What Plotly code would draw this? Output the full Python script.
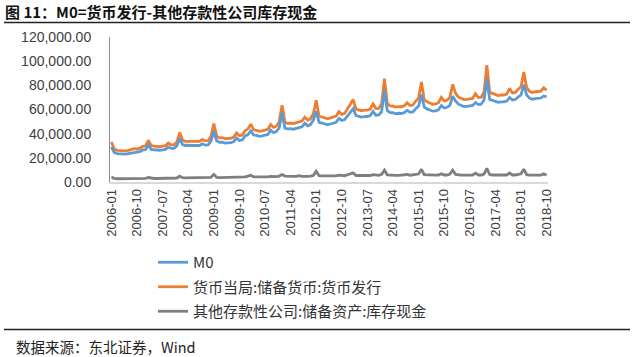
import plotly.graph_objects as go

# monthly categories 2006-01 .. 2018-10
months = [f"{y}-{m:02d}" for y in range(2006, 2019) for m in range(1, 13)][:154]

tick_labels = ["2006-01", "2006-10", "2007-07", "2008-04", "2009-01", "2009-10",
               "2010-07", "2011-04", "2012-01", "2012-10", "2013-07", "2014-04",
               "2015-01", "2015-10", "2016-07", "2017-04", "2018-01", "2018-10"]

# M0 (blue)
m0 = [
    29000, 24300, 23500, 23300, 23100, 23100, 23500, 23800, 24700, 24500, 25200, 26500,
    26800, 30800, 27000, 26700, 26300, 26300, 26600, 27000, 29100, 27800, 27900, 29900,
    36100, 31000, 30200, 30200, 29800, 29600, 30100, 30200, 31600, 30500, 30700, 33700,
    42000, 34100, 32800, 32900, 32200, 32100, 32500, 33400, 36400, 34400, 34800, 38200,
    39200, 42300, 38900, 38600, 37800, 38200, 38800, 39300, 42900, 40800, 41700, 44900,
    57300, 44600, 44000, 44200, 43700, 44300, 44600, 45700, 48600, 46500, 47500, 51100,
    58700, 49300, 48800, 48400, 47400, 48000, 48800, 49400, 52600, 50900, 51600, 54500,
    57200, 60700, 55000, 54300, 53700, 54100, 54200, 55000, 58400, 55300, 55500, 58100,
    75800, 59100, 57400, 57300, 56500, 56900, 56700, 57500, 59400, 57700, 58000, 60600,
    62900, 72300, 61900, 60500, 59400, 58600, 58900, 59800, 63300, 61200, 61800, 63500,
    71000, 67000, 64400, 63300, 62500, 62600, 62800, 63400, 65800, 64100, 64400, 67800,
    85500, 68300, 67500, 66700, 65900, 66300, 66300, 67000, 70000, 67900, 68300, 70300,
    72000, 80500, 72000, 69400, 68500, 69000, 69200, 69500, 71200, 70400,
]

# 货币当局:储备货币:货币发行 (orange)
issue = [
    33100, 27200, 26200, 26000, 25800, 25800, 26200, 26600, 27600, 27300, 28000, 29500,
    29800, 34500, 30000, 29600, 29200, 29200, 29600, 30000, 32300, 30800, 30900, 33200,
    40900, 34600, 33600, 33600, 33200, 33000, 33500, 33600, 35200, 34000, 34200, 37600,
    48300, 38000, 36500, 36600, 35900, 35800, 36200, 37200, 40600, 38300, 38800, 42500,
    44000, 47800, 43200, 42800, 42000, 42400, 43100, 43600, 47600, 45200, 46200, 49800,
    63500, 49500, 48600, 48800, 48300, 49000, 49800, 50400, 53600, 51200, 52300, 56500,
    67700, 54500, 53800, 53300, 52300, 53000, 53800, 54500, 58200, 56000, 56800, 60500,
    64000, 68200, 60400, 59600, 59000, 59400, 59500, 60400, 64500, 60800, 61000, 64500,
    85600, 65000, 63000, 62800, 62000, 62400, 62300, 63100, 65600, 63300, 63700, 67000,
    69500, 82800, 67900, 66300, 65100, 64300, 64600, 65600, 70100, 67000, 67600, 70100,
    80800, 73300, 70200, 69000, 68200, 68300, 68500, 69200, 73100, 69900, 70200, 74300,
    96700, 74500, 73300, 72400, 71500, 72000, 72000, 72800, 77400, 73700, 74100, 76700,
    78800, 91100, 78000, 75100, 74100, 74700, 74900, 75200, 78000, 75900,
]

# 其他存款性公司:储备资产:库存现金 (gray)
vault = [
    4100, 2900, 2700, 2700, 2700, 2700, 2700, 2800, 2900, 2800, 2800, 3000,
    3000, 3700, 3000, 2900, 2900, 2900, 3000, 3000, 3200, 3000, 3000, 3300,
    4800, 3600, 3400, 3400, 3400, 3400, 3400, 3400, 3600, 3500, 3500, 3900,
    6300, 3900, 3700, 3700, 3700, 3700, 3700, 3800, 4200, 3900, 4000, 4300,
    4800, 5500, 4300, 4200, 4200, 4200, 4300, 4300, 4700, 4400, 4500, 4900,
    6200, 4900, 4600, 4600, 4600, 4700, 5200, 4700, 5000, 4700, 4800, 5400,
    9000, 5200, 5000, 4900, 4900, 5000, 5000, 5100, 5600, 5100, 5200, 6000,
    6800, 7500, 5400, 5300, 5300, 5300, 5300, 5400, 6100, 5500, 5500, 6400,
    9800, 5900, 5600, 5500, 5500, 5500, 5600, 5600, 6200, 5600, 5700, 6400,
    6600, 10500, 6000, 5800, 5700, 5700, 5700, 5800, 6800, 5800, 5800, 6600,
    9800, 6300, 5800, 5700, 5700, 5700, 5700, 5800, 7300, 5800, 5800, 6500,
    11200, 6200, 5800, 5700, 5600, 5700, 5700, 5800, 7400, 5800, 5800, 6400,
    6800, 10600, 6000, 5700, 5600, 5700, 5700, 5700, 6800, 5500,
]

names = ["M0", "货币当局:储备货币:货币发行", "其他存款性公司:储备资产:库存现金"]
colors = ["#5b9bd5", "#ed7d31", "#7f7f7f"]

L, R, T, B = 110, 92, 37, 175
W, H = 640, 357
pw, ph = W - L - R, H - T - B

def px(x):
    return (x - L) / pw

def py(y):
    return (H - B - y) / ph

fig = go.Figure()
order = [(1, issue), (0, m0), (2, vault)]
for idx, vals in order:
    fig.add_trace(go.Scatter(
        x=months, y=vals, mode="lines", name=names[idx],
        line=dict(color=colors[idx], width=2.8),
        legendrank=idx + 1, legendgroup=str(idx),
    ))

fig.update_layout(
    width=W, height=H,
    margin=dict(l=L, r=R, t=T, b=B, autoexpand=False),
    paper_bgcolor="white", plot_bgcolor="white",
    showlegend=True,
    legend=dict(x=px(153), y=py(246), xanchor="left", yanchor="top",
                font=dict(family="Noto Sans CJK SC", size=15, color="#333333"),
                tracegroupgap=2, bgcolor="rgba(0,0,0,0)"),
    font=dict(family="Liberation Sans", color="#404040"),
)
fig.update_xaxes(
    type="category", range=[-0.5, 153.5],
    tickmode="array", tickvals=tick_labels, ticktext=tick_labels,
    tickangle=-90, tickfont=dict(family="Liberation Sans", size=13, color="#404040"),
    showline=True, linecolor="#d9d9d9", linewidth=1.5, showgrid=False,
    ticks="", zeroline=False,
)
fig.update_yaxes(
    range=[0, 120000], tickvals=[0, 20000, 40000, 60000, 80000, 100000, 120000],
    tickformat=",.2f", tickfont=dict(family="Liberation Sans", size=14, color="#404040"),
    showline=True, linecolor="#8c8c8c", linewidth=1, showgrid=False,
    ticks="", zeroline=False, ticklabelstandoff=15,
)

fig.add_annotation(text="<b>图 11：M0=货币发行-其他存款性公司库存现金</b>",
                   xref="paper", yref="paper", x=px(3), y=py(11),
                   xanchor="left", yanchor="middle", showarrow=False,
                   font=dict(family="Noto Sans CJK SC", size=15, color="#111111"))
fig.add_annotation(text="数据来源：东北证券，Wind",
                   xref="paper", yref="paper", x=px(14), y=py(346),
                   xanchor="left", yanchor="middle", showarrow=False,
                   font=dict(family="Noto Sans CJK SC", size=14.5, color="#222222"))
fig.add_shape(type="line", xref="paper", yref="paper",
              x0=px(4), x1=px(630), y0=py(22.5), y1=py(22.5),
              line=dict(color="#222222", width=1.5))
fig.add_shape(type="line", xref="paper", yref="paper",
              x0=px(4), x1=px(630), y0=py(329.5), y1=py(329.5),
              line=dict(color="#222222", width=1.5))

fig.write_html("out.html",
               config={"displayModeBar": False},
               post_script="document.body.style.margin='0';document.body.style.overflow='hidden';")
